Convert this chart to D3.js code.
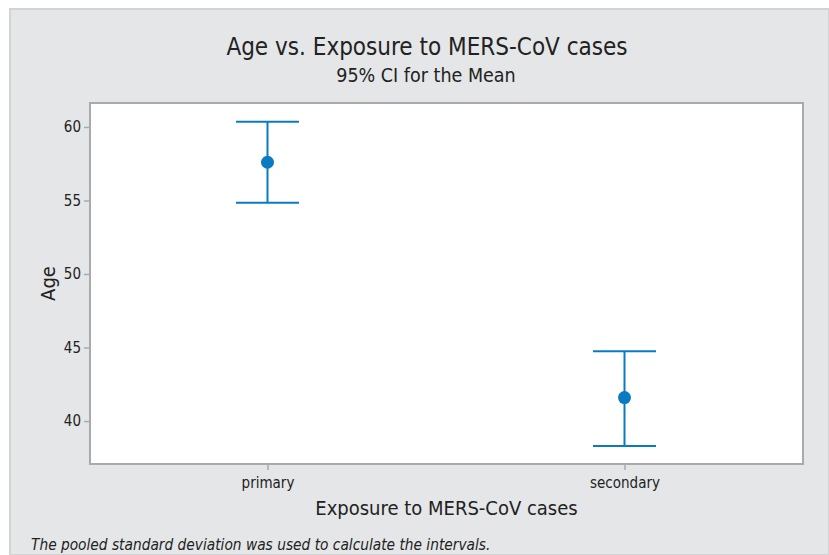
<!DOCTYPE html>
<html>
<head>
<meta charset="utf-8">
<script src="https://cdn.jsdelivr.net/npm/d3@7"></script>
<style>
  html, body { margin: 0; padding: 0; background: #ffffff; }
  svg { display: block; }
  text { font-family: "DejaVu Sans Condensed", "DejaVu Sans", sans-serif; fill: #222; }
</style>
</head>
<body>
<svg id="chart" width="829" height="555"></svg>
<script>
const categories = ["primary", "secondary"];
const means = [57.6, 41.6];
const lowerCI = [54.85, 38.3];
const upperCI = [60.35, 44.75];
const yTicks = [40, 45, 50, 55, 60];

const W = 829, H = 555;
const svg = d3.select("#chart");

// outer panel
svg.append("rect").attr("x", 10).attr("y", 9).attr("width", W - 10).attr("height", H - 9)
  .attr("fill", "#e5e6e8").attr("stroke", "#d2d3d5").attr("stroke-width", 2);

const plot = { left: 90, top: 103, right: 803, bottom: 464 };

const x = d3.scalePoint().domain(categories).range([plot.left - 1, plot.right]).padding(0.5);
const y = d3.scaleLinear().domain([37.08, 61.63]).range([plot.bottom, plot.top]);

svg.append("rect").attr("x", plot.left).attr("y", plot.top)
  .attr("width", plot.right - plot.left).attr("height", plot.bottom - plot.top)
  .attr("fill", "#ffffff").attr("stroke", "#a9aaac").attr("stroke-width", 2);

// y axis
const yAxis = d3.axisLeft(y).tickValues(yTicks).tickSize(5).tickPadding(3);
const gy = svg.append("g").attr("transform", `translate(${plot.left - 1},0)`).call(yAxis);
gy.select(".domain").remove();
gy.selectAll(".tick line").attr("stroke", "#a9aaac").attr("stroke-width", 1.5);
gy.selectAll(".tick text").style("font-size", "15px").attr("fill", "#1e1e1e");

// x axis
const xAxis = d3.axisBottom(x).tickSize(5).tickPadding(7);
const gx = svg.append("g").attr("transform", `translate(0,${plot.bottom + 1})`).call(xAxis);
gx.select(".domain").remove();
gx.selectAll(".tick line").attr("stroke", "#a9aaac").attr("stroke-width", 1.5);
gx.selectAll(".tick text").style("font-size", "15px").attr("fill", "#1e1e1e");

// intervals
const blue = "#0b7bc1";
const capW = 63;
const data = categories.map((c, i) => ({ c, m: means[i], lo: lowerCI[i], hi: upperCI[i] }));
const g = svg.append("g");
g.selectAll("line.v").data(data).join("line")
  .attr("x1", d => x(d.c)).attr("x2", d => x(d.c))
  .attr("y1", d => y(d.lo)).attr("y2", d => y(d.hi))
  .attr("stroke", blue).attr("stroke-width", 2);
g.selectAll("line.top").data(data).join("line")
  .attr("x1", d => x(d.c) - capW / 2).attr("x2", d => x(d.c) + capW / 2)
  .attr("y1", d => y(d.hi)).attr("y2", d => y(d.hi))
  .attr("stroke", blue).attr("stroke-width", 2);
g.selectAll("line.bot").data(data).join("line")
  .attr("x1", d => x(d.c) - capW / 2).attr("x2", d => x(d.c) + capW / 2)
  .attr("y1", d => y(d.lo)).attr("y2", d => y(d.lo))
  .attr("stroke", blue).attr("stroke-width", 2);
g.selectAll("circle").data(data).join("circle")
  .attr("cx", d => x(d.c)).attr("cy", d => y(d.m)).attr("r", 6.5)
  .attr("fill", blue);

// titles
svg.append("text").attr("x", 427).attr("y", 55).attr("text-anchor", "middle")
  .style("font-size", "24px").text("Age vs. Exposure to MERS-CoV cases");
svg.append("text").attr("x", 426).attr("y", 82).attr("text-anchor", "middle")
  .style("font-size", "19.5px").text("95% CI for the Mean");
svg.append("text").attr("x", (plot.left + plot.right) / 2).attr("y", 515).attr("text-anchor", "middle")
  .style("font-size", "20px").text("Exposure to MERS-CoV cases");
svg.append("text").attr("transform", `translate(55,${(plot.top + plot.bottom) / 2}) rotate(-90)`)
  .attr("text-anchor", "middle").style("font-size", "20px").text("Age");
svg.append("text").attr("x", 31).attr("y", 550).style("font-size", "15.3px")
  .style("font-style", "italic").text("The pooled standard deviation was used to calculate the intervals.");
</script>
</body>
</html>
